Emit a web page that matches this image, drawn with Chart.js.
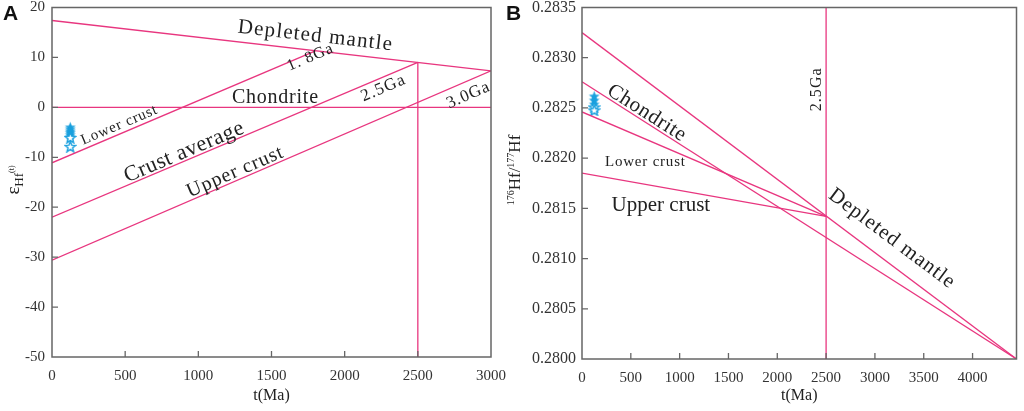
<!DOCTYPE html>
<html><head><meta charset="utf-8">
<script src="https://cdn.jsdelivr.net/npm/chart.js@4.4.0/dist/chart.umd.min.js"></script>
<style>
html,body{margin:0;padding:0;background:#fff;width:1024px;height:411px;overflow:hidden;}
#ca{position:absolute;left:0;top:0;}
#cb{position:absolute;left:500px;top:0;}
.lt{position:absolute;font-family:"Liberation Sans",Arial,sans-serif;font-weight:bold;font-size:21px;color:#111;line-height:21px;}
</style></head><body>
<canvas id="cb" width="524" height="411"></canvas>
<canvas id="ca" width="512" height="411"></canvas>
<div class="lt" style="left:3px;top:2px">A</div>
<div class="lt" style="left:506px;top:2px">B</div>
<script>
// ---------- Panel A data ----------
const xTicksA = [0, 500, 1000, 1500, 2000, 2500, 3000];
const yTicksA = [-50, -40, -30, -20, -10, 0, 10, 20];
const ageDM_A = [0, 3000];      const epsDM   = [17.4, 7.3];
const ageCHUR_A = [0, 3000];    const epsCHUR = [0, 0];
const age18 = [0, 1800];        const eps18   = [-11.1, 11.3];
const age25 = [0, 2500];        const eps25   = [-22.0, 9.0];
const age30 = [0, 3000];        const eps30   = [-30.6, 7.3];
const ageV_A = [2500, 2500];    const epsV    = [-50, 9.0];
const sampleAgeFilledA = [125, 125, 125, 125, 125, 125];
const sampleEpsFilled  = [-3.9, -4.3, -4.7, -5.0, -5.4, -5.8];
const sampleAgeHollowA = [125, 125];
const sampleEpsHollow  = [-6.0, -7.8];

// ---------- Panel B data ----------
const xTicksB = [0, 500, 1000, 1500, 2000, 2500, 3000, 3500, 4000];
const yTicksB = [0.2800, 0.2805, 0.2810, 0.2815, 0.2820, 0.2825, 0.2830, 0.2835];
const ageDM_B = [0, 4450];      const hfDM   = [0.28325, 0.2800];
const ageCHUR_B = [0, 4450];    const hfCHUR = [0.28276, 0.2800];
const ageLC = [0, 2500];        const hfLC   = [0.28246, 0.28142];
const ageUC = [0, 2500];        const hfUC   = [0.28185, 0.28142];
const ageV_B = [2500, 2500];    const hfV    = [0.2800, 0.2835];
const sampleAgeFilledB = [125, 125, 125];
const sampleHfFilled   = [0.28262, 0.28258, 0.28254];
const sampleAgeHollowB = [125, 125];
const sampleHfHollow   = [0.28251, 0.28248];

// ---------- styles ----------
const PINK = '#e8367f';
const CYAN = '#1aa0de';
const SERIF = '"Liberation Serif","Times New Roman",serif';
const TXT = '#222';

function pts(xs, ys){ return xs.map((x,i)=>({x:x, y:ys[i]})); }
function lineDS(xs, ys){
  return {type:'scatter', data:pts(xs,ys), showLine:true, borderColor:PINK, borderWidth:1.3,
          pointRadius:0, pointHoverRadius:0, fill:false};
}
function makeStar(size, filled){
  const c = document.createElement('canvas');
  c.width = size; c.height = size;
  const g = c.getContext('2d');
  const R = size/2 - 0.8, r = R*0.42, cx = size/2, cy = size/2 + 0.8;
  g.beginPath();
  for (let i=0;i<10;i++){
    const a = -Math.PI/2 + i*Math.PI/5;
    const rr = (i%2===0)?R:r;
    const x = cx + rr*Math.cos(a), y = cy + rr*Math.sin(a);
    if(i===0) g.moveTo(x,y); else g.lineTo(x,y);
  }
  g.closePath();
  if (filled){ g.fillStyle = CYAN; g.fill(); }
  else { g.fillStyle='#fff'; g.fill(); g.strokeStyle = CYAN; g.lineWidth = 1.4; g.stroke(); }
  return c;
}
const starFilled = makeStar(13, true);
const starHollow = makeStar(13, false);
function starDS(xs, ys, img){
  return {type:'scatter', data:pts(xs,ys), showLine:false, pointStyle:img, pointRadius:6.5,
          borderColor:CYAN, backgroundColor:CYAN};
}

function decoPlugin(opts){
  return {
    id:'deco',
    afterDraw(chart){
      const ctx = chart.ctx, a = chart.chartArea;
      const xs = chart.scales.x, ys = chart.scales.y;
      ctx.save();
      // inward ticks
      ctx.strokeStyle = '#666'; ctx.lineWidth = 1.3;
      ctx.beginPath();
      xs.ticks.forEach(t=>{
        const p = xs.getPixelForValue(t.value);
        if (p > a.left+2 && p < a.right-2){ ctx.moveTo(p, a.bottom); ctx.lineTo(p, a.bottom-6); }
      });
      ys.ticks.forEach(t=>{
        const p = ys.getPixelForValue(t.value);
        if (p > a.top+2 && p < a.bottom-2){ ctx.moveTo(a.left, p); ctx.lineTo(a.left+6, p); }
      });
      ctx.stroke();
      // frame
      ctx.strokeStyle = '#666'; ctx.lineWidth = 1.5;
      ctx.strokeRect(a.left, a.top, a.right-a.left, a.bottom-a.top);
      // labels
      ctx.fillStyle = TXT; ctx.textAlign = 'center'; ctx.textBaseline = 'middle';
      opts.labels.forEach(L=>{
        const px = xs.getPixelForValue(L.x), py = ys.getPixelForValue(L.y);
        let ang = L.angle || 0;
        if (L.along){
          const [x1,y1,x2,y2] = L.along;
          ang = Math.atan2(ys.getPixelForValue(y2)-ys.getPixelForValue(y1), xs.getPixelForValue(x2)-xs.getPixelForValue(x1));
        }
        ctx.save();
        ctx.translate(px, py); ctx.rotate(ang);
        ctx.font = L.size + 'px ' + SERIF;
        ctx.letterSpacing = '0px';
        const nat = ctx.measureText(L.t).width;
        const sp = L.w ? Math.max(0, (L.w - nat) / (L.t.length - 1)) : 0;
        ctx.letterSpacing = sp.toFixed(2) + 'px';
        ctx.fillText(L.t, sp/2, 0);
        ctx.restore();
      });
      ctx.letterSpacing = '0px';
      // x title
      ctx.font = '16px ' + SERIF; ctx.textAlign='center'; ctx.textBaseline='middle';
      ctx.fillText('t(Ma)', (a.left+a.right)/2, 396);
      // y title (rich)
      ctx.save();
      ctx.translate(opts.yTitleX, opts.yTitleY);
      ctx.rotate(-Math.PI/2);
      ctx.textAlign='left'; ctx.textBaseline='alphabetic';
      let w = 0;
      opts.yTitle.forEach(p=>{ ctx.font = p[1]+'px '+SERIF; w += ctx.measureText(p[0]).width; });
      let cx = -w/2;
      opts.yTitle.forEach(p=>{
        ctx.font = p[1]+'px '+SERIF;
        ctx.fillText(p[0], cx, 5 + p[2]);
        cx += ctx.measureText(p[0]).width;
      });
      ctx.restore();
      ctx.restore();
    }
  };
}

function baseOptions(xmin,xmax,ymin,ymax,xt,yt,yWidth,xHeight,pad,yfmt,ypad,ysize){
  return {
    responsive:false, animation:false,
    layout:{padding:pad},
    plugins:{legend:{display:false}, tooltip:{enabled:false}},
    scales:{
      x:{type:'linear', min:xmin, max:xmax,
         grid:{display:false, drawTicks:false}, border:{display:false},
         ticks:{font:{family:SERIF,size:15}, color:'#333', padding:10, maxRotation:0, autoSkip:false,
                callback:(v)=>String(v)},
         afterBuildTicks:(s)=>{ s.ticks = xt.map(v=>({value:v})); },
         afterFit:(s)=>{ s.height = xHeight; s.paddingLeft = 0; s.paddingRight = 0; }},
      y:{type:'linear', min:ymin, max:ymax,
         grid:{display:false, drawTicks:false}, border:{display:false},
         ticks:{font:{family:SERIF,size:ysize}, color:'#333', padding:ypad, autoSkip:false, callback:yfmt},
         afterBuildTicks:(s)=>{ s.ticks = yt.map(v=>({value:v})); },
         afterFit:(s)=>{ s.width = yWidth; s.paddingTop = 0; s.paddingBottom = 0; }}
    }
  };
}

// ---------- Chart A ----------
new Chart(document.getElementById('ca'), {
  type:'scatter',
  data:{datasets:[
    lineDS(ageDM_A, epsDM), lineDS(ageCHUR_A, epsCHUR), lineDS(age18, eps18),
    lineDS(age25, eps25), lineDS(age30, eps30), lineDS(ageV_A, epsV),
    starDS(sampleAgeHollowA, sampleEpsHollow, starHollow),
    starDS(sampleAgeFilledA, sampleEpsFilled, starFilled)
  ]},
  options: baseOptions(0,3000,-50,20,xTicksA,yTicksA,52,54,{left:0,right:21,top:7,bottom:0},(v)=>String(v),7,15),
  plugins:[decoPlugin({
    yTitleX:14, yTitleY:180,
    yTitle:[['ε',19,0],['Hf',13,4],['(t)',8,-5]],
    labels:[
      {t:'Depleted mantle', x:1797, y:14.3, size:21, w:155, along:[0,17.4,3000,7.3]},
      {t:'1. 8Ga', x:1763, y:10.0, size:16, w:48, along:[0,-11.1,1800,11.3]},
      {t:'Chondrite', x:1524, y:1.9, size:20, w:86},
      {t:'2.5Ga', x:2262, y:3.8, size:17, w:46, along:[0,-22,2500,9]},
      {t:'3.0Ga', x:2843, y:2.4, size:17, w:45, along:[0,-30.6,3000,7.3]},
      {t:'Lower crust', x:458, y:-3.6, size:15, w:81, along:[0,-11.1,1800,11.3]},
      {t:'Crust average', x:902, y:-9.0, size:22, w:128, along:[0,-22,2500,9]},
      {t:'Upper crust', x:1251, y:-13.0, size:20, w:103, along:[0,-30.6,3000,7.3]}
    ]
  })]
});

// ---------- Chart B ----------
new Chart(document.getElementById('cb'), {
  type:'scatter',
  data:{datasets:[
    lineDS(ageDM_B, hfDM), lineDS(ageCHUR_B, hfCHUR), lineDS(ageLC, hfLC),
    lineDS(ageUC, hfUC), lineDS(ageV_B, hfV),
    starDS(sampleAgeHollowB, sampleHfHollow, starHollow),
    starDS(sampleAgeFilledB, sampleHfFilled, starFilled)
  ]},
  options: baseOptions(0,4450,0.2800,0.2835,xTicksB,yTicksB,82,52,{left:0,right:7,top:5,bottom:0},(v)=>v.toFixed(4),6,16),
  plugins:[decoPlugin({
    yTitleX:15, yTitleY:170,
    yTitle:[['176',10,-6],['Hf/',17,0],['177',10,-6],['Hf',17,0]],
    labels:[
      {t:'Chondrite', x:660, y:0.28245, size:21, w:89, along:[0,0.28276,4450,0.2800]},
      {t:'Lower crust', x:645, y:0.28196, size:15, w:80},
      {t:'Upper crust', x:808, y:0.28153, size:21, w:97},
      {t:'2.5Ga', x:2404, y:0.28268, size:16, w:43, angle:-Math.PI/2},
      {t:'Depleted mantle', x:3170, y:0.28120, size:21, w:152, along:[0,0.28325,4450,0.2800]}
    ]
  })]
});
</script>
</body></html>
